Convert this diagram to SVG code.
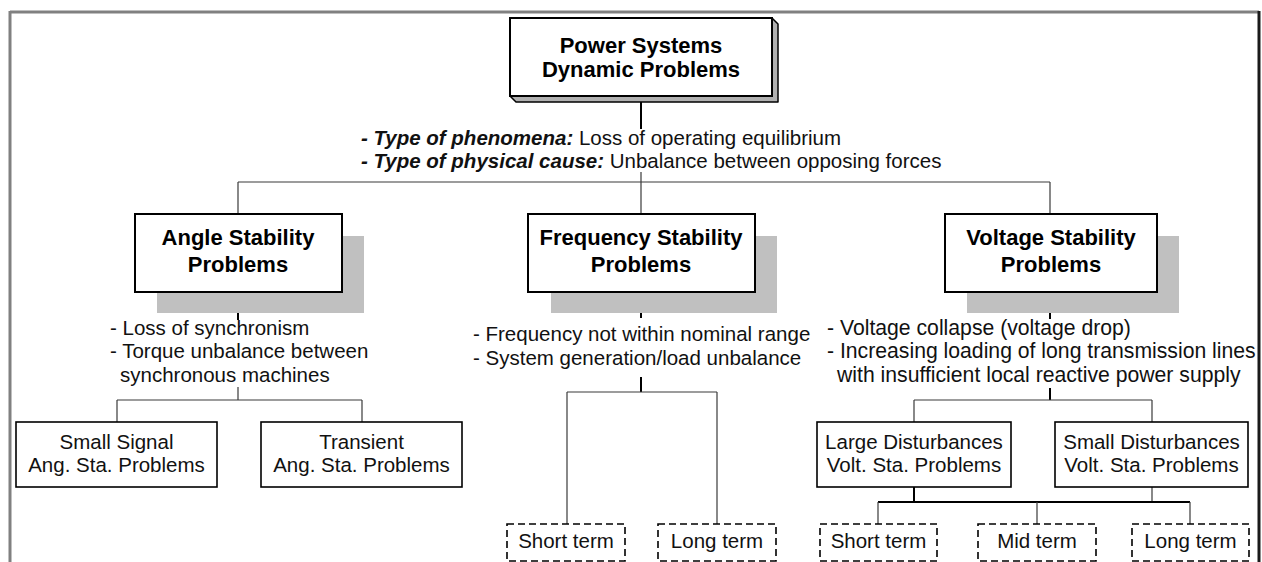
<svg xmlns="http://www.w3.org/2000/svg" width="1262" height="562" viewBox="0 0 1262 562">
  <style>
    .box { fill: #ffffff; stroke: #000000; stroke-width: 2; }
    .leaf { fill: #ffffff; stroke: #000000; stroke-width: 1.6; }
    .dash { fill: #ffffff; stroke: #000000; stroke-width: 1.6; stroke-dasharray: 7 4; }
    .shadow { fill: #c0c0c0; stroke: none; }
    .thin { stroke: #3a3a3a; stroke-width: 1.2; fill: none; }
    .stem { stroke: #000000; stroke-width: 2; fill: none; }
    .title { font-family: "Liberation Sans", Arial, sans-serif; font-weight: bold; font-size: 22px; fill: #000; text-anchor: middle; }
    .label { font-family: "Liberation Sans", Arial, sans-serif; font-size: 20.5px; fill: #111; text-anchor: middle; }
    .note { font-family: "Liberation Sans", Arial, sans-serif; font-size: 20.5px; fill: #111; }
    .note-wide { font-size: 21.2px; }
    .em { font-weight: bold; font-style: italic; }
  </style>

  <rect x="0" y="0" width="1262" height="562" fill="#ffffff"/>

  <!-- page frame -->
  <g id="frame">
    <line x1="10" y1="12" x2="1259" y2="12" stroke="#808080" stroke-width="3"/>
    <line x1="10" y1="11" x2="10" y2="562" stroke="#808080" stroke-width="3"/>
    <line x1="1259" y1="11" x2="1259" y2="562" stroke="#1a1a1a" stroke-width="3"/>
  </g>

  <!-- connectors -->
  <g id="connectors">
    <line class="stem" x1="641" y1="97" x2="641" y2="129"/>
    <line class="thin" x1="641" y1="172" x2="641" y2="182"/>
    <line class="thin" x1="238" y1="182" x2="1050" y2="182"/>
    <line class="thin" x1="238" y1="182" x2="238" y2="214"/>
    <line class="thin" x1="641" y1="182" x2="641" y2="214"/>
    <line class="thin" x1="1050" y1="182" x2="1050" y2="214"/>

    <line class="stem" x1="238" y1="292" x2="238" y2="320" stroke-width="1.5"/>
    <line class="thin" x1="238" y1="387" x2="238" y2="400"/>
    <line class="thin" x1="117" y1="400" x2="362" y2="400"/>
    <line class="thin" x1="117" y1="400" x2="117" y2="422"/>
    <line class="thin" x1="362" y1="400" x2="362" y2="422"/>

    <line class="stem" x1="641" y1="292" x2="641" y2="318"/>
    <line class="stem" x1="641" y1="377" x2="641" y2="392"/>
    <line class="thin" x1="567" y1="392" x2="717" y2="392"/>
    <line class="thin" x1="567" y1="392" x2="567" y2="524"/>
    <line class="thin" x1="717" y1="392" x2="717" y2="524"/>

    <line class="stem" x1="1050" y1="292" x2="1050" y2="319"/>
    <line class="stem" x1="1050" y1="388" x2="1050" y2="400"/>
    <line class="thin" x1="914" y1="400" x2="1152" y2="400"/>
    <line class="thin" x1="914" y1="400" x2="914" y2="422"/>
    <line class="thin" x1="1152" y1="400" x2="1152" y2="422"/>

    <line class="stem" x1="914" y1="487" x2="914" y2="502"/>
    <line class="thin" x1="1152" y1="487" x2="1152" y2="502"/>
    <line class="stem" x1="878" y1="502" x2="1190" y2="502" stroke-width="1.6"/>
    <line class="thin" x1="878" y1="502" x2="878" y2="524"/>
    <line class="thin" x1="1037" y1="502" x2="1037" y2="524"/>
    <line class="thin" x1="1190" y1="502" x2="1190" y2="524"/>
  </g>

  <!-- root node with bevelled edge -->
  <g id="root">
    <polygon points="772,18 778,24 778,102 516,102 510,96 772,96" fill="#b0b0b0" stroke="#000" stroke-width="1.5" stroke-linejoin="round"/>
    <rect class="box" x="510" y="18" width="262" height="78"/>
    <text class="title" x="641" y="53">Power Systems</text>
    <text class="title" x="641" y="77">Dynamic Problems</text>
  </g>

  <g id="root-notes">
    <text class="note" x="361" y="145"><tspan class="em">- Type of phenomena:</tspan> Loss of operating equilibrium</text>
    <text class="note" x="361" y="168"><tspan class="em">- Type of physical cause:</tspan> Unbalance between opposing forces</text>
  </g>

  <!-- second level -->
  <g id="angle">
    <rect class="shadow" x="157" y="236" width="207" height="77"/>
    <rect class="box" x="135" y="214" width="207" height="78"/>
    <text class="title" x="238" y="245">Angle Stability</text>
    <text class="title" x="238" y="272">Problems</text>
  </g>
  <g id="angle-notes">
    <text class="note" x="110" y="335">- Loss of synchronism</text>
    <text class="note" x="110" y="358">- Torque unbalance between</text>
    <text class="note" x="120" y="382">synchronous machines</text>
  </g>

  <g id="frequency">
    <rect class="shadow" x="551" y="236" width="226" height="77"/>
    <rect class="box" x="528" y="214" width="227" height="78"/>
    <text class="title" x="641" y="245">Frequency Stability</text>
    <text class="title" x="641" y="272">Problems</text>
  </g>
  <g id="frequency-notes">
    <text class="note" x="473" y="341">- Frequency not within nominal range</text>
    <text class="note" x="473" y="365">- System generation/load unbalance</text>
  </g>

  <g id="voltage">
    <rect class="shadow" x="967" y="236" width="212" height="77"/>
    <rect class="box" x="945" y="214" width="212" height="78"/>
    <text class="title" x="1051" y="245">Voltage Stability</text>
    <text class="title" x="1051" y="272">Problems</text>
  </g>
  <g id="voltage-notes">
    <text class="note note-wide" x="827" y="335">- Voltage collapse (voltage drop)</text>
    <text class="note note-wide" x="827" y="358">- Increasing loading of long transmission lines</text>
    <text class="note note-wide" x="837" y="381.5">with insufficient local reactive power supply</text>
  </g>

  <!-- third level -->
  <g id="small-signal">
    <rect class="leaf" x="16" y="422" width="201" height="65"/>
    <text class="label" x="116.5" y="449">Small Signal</text>
    <text class="label" x="116.5" y="472">Ang. Sta. Problems</text>
  </g>
  <g id="transient">
    <rect class="leaf" x="261" y="422" width="201" height="65"/>
    <text class="label" x="361.5" y="449">Transient</text>
    <text class="label" x="361.5" y="472">Ang. Sta. Problems</text>
  </g>
  <g id="large-disturbances">
    <rect class="leaf" x="817" y="422" width="194" height="65"/>
    <text class="label" x="914" y="449">Large Disturbances</text>
    <text class="label" x="914" y="472">Volt. Sta. Problems</text>
  </g>
  <g id="small-disturbances">
    <rect class="leaf" x="1055" y="422" width="193" height="65"/>
    <text class="label" x="1151.5" y="449">Small Disturbances</text>
    <text class="label" x="1151.5" y="472">Volt. Sta. Problems</text>
  </g>

  <!-- time-scale leaves -->
  <g id="freq-short">
    <rect class="dash" x="507" y="524" width="118" height="37"/>
    <text class="label" x="566" y="548">Short term</text>
  </g>
  <g id="freq-long">
    <rect class="dash" x="658" y="524" width="118" height="37"/>
    <text class="label" x="717" y="548">Long term</text>
  </g>
  <g id="volt-short">
    <rect class="dash" x="820" y="524" width="117" height="37"/>
    <text class="label" x="878.5" y="548">Short term</text>
  </g>
  <g id="volt-mid">
    <rect class="dash" x="978" y="524" width="118" height="37"/>
    <text class="label" x="1037" y="548">Mid term</text>
  </g>
  <g id="volt-long">
    <rect class="dash" x="1132" y="524" width="117" height="37"/>
    <text class="label" x="1190.5" y="548">Long term</text>
  </g>
</svg>
